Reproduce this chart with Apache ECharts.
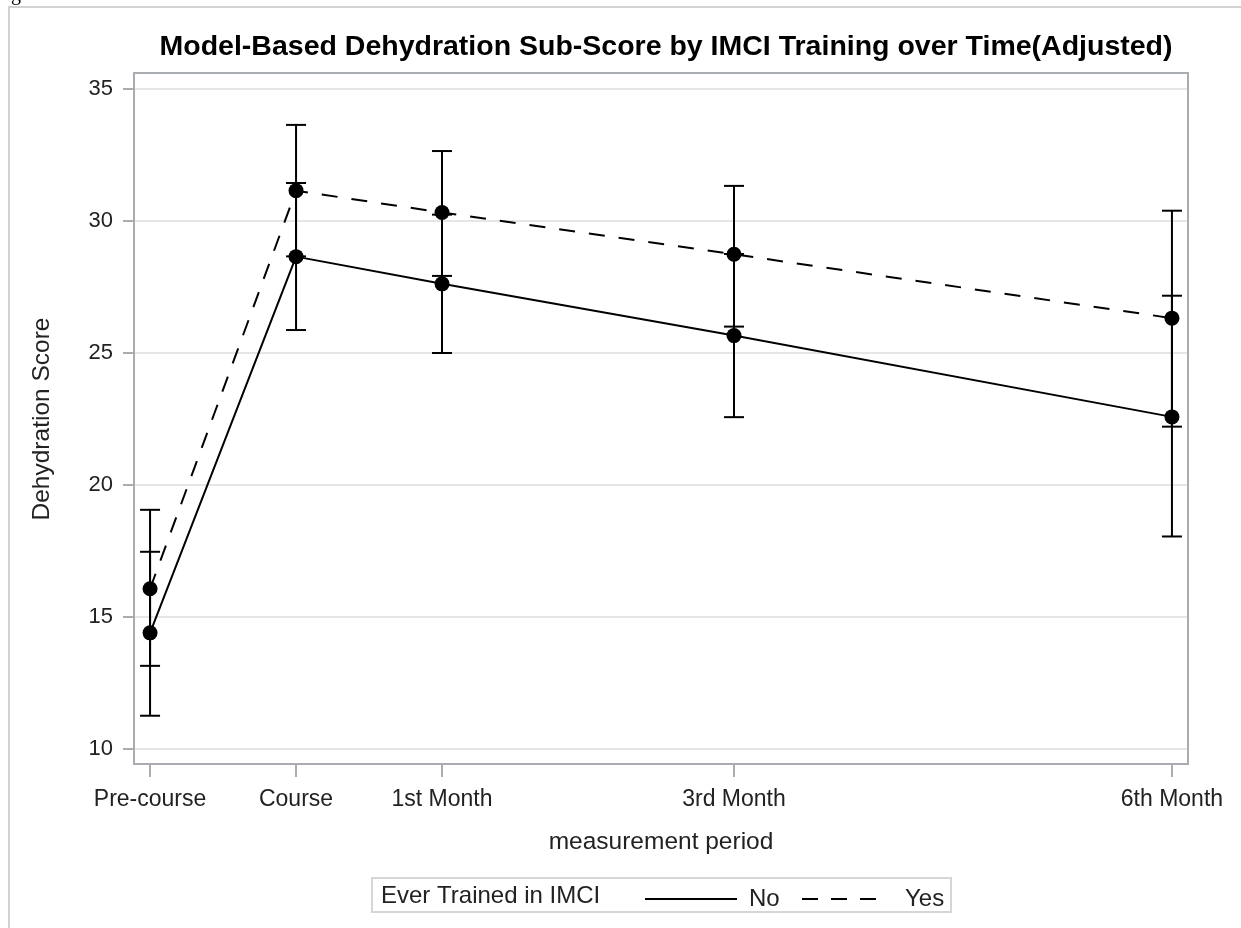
<!DOCTYPE html>
<html>
<head>
<meta charset="utf-8">
<script src="https://cdn.jsdelivr.net/npm/echarts@6/dist/echarts.min.js"></script>
<style>html,body{margin:0;padding:0;background:#fff;}#chart{width:1241px;height:928px;}</style>
</head>
<body>
<div id="chart"></div>
<script>
// ---- data ----
const periods = ['Pre-course', 'Course', '1st Month', '3rd Month', '6th Month'];
const periodX = [-1, 0, 1, 3, 6];
const noMean  = [14.40, 28.65, 27.62, 25.66, 22.58];
const noLow   = [11.26, 25.87, 25.00, 22.57, 18.05];
const noHigh  = [17.47, 31.44, 30.24, 28.75, 27.17];
const yesMean = [16.07, 31.15, 30.32, 28.74, 26.32];
const yesLow  = [13.15, 28.66, 27.92, 26.00, 22.21];
const yesHigh = [19.06, 33.64, 32.65, 31.33, 30.39];
const groupNames = ['No', 'Yes'];
const legendTitle = 'Ever Trained in IMCI';

const FONT = '"Liberation Sans", Arial, sans-serif';
const pts = (m) => periodX.map((x, i) => [x, m[i]]);
const bars = (lo, hi) => periodX.map((x, i) => [x, lo[i], hi[i]]);

function errRender(params, api) {
  const x = api.value(0);
  const lo = api.coord([x, api.value(1)]);
  const hi = api.coord([x, api.value(2)]);
  const hw = 10;
  const st = { stroke: '#000', lineWidth: 2 };
  return {
    type: 'group',
    children: [
      { type: 'line', shape: { x1: lo[0], y1: lo[1], x2: hi[0], y2: hi[1] }, style: st },
      { type: 'line', shape: { x1: lo[0] - hw, y1: lo[1], x2: lo[0] + hw, y2: lo[1] }, style: st },
      { type: 'line', shape: { x1: hi[0] - hw, y1: hi[1], x2: hi[0] + hw, y2: hi[1] }, style: st }
    ]
  };
}

const chart = echarts.init(document.getElementById('chart'), null, { renderer: 'canvas' });
chart.setOption({
  backgroundColor: '#fff',
  animation: false,
  title: {
    text: 'Model-Based Dehydration Sub-Score by IMCI Training over Time(Adjusted)',
    left: 661, top: 28, textAlign: 'center',
    textStyle: { fontFamily: FONT, fontSize: 28.5, fontWeight: 'bold', color: '#000' }
  },
  grid: { left: 134, right: 53, top: 89, bottom: 179 },
  xAxis: {
    type: 'value', min: -1.11, max: 6.11, offset: 15,
    name: 'measurement period', nameLocation: 'middle', nameGap: 66,
    nameTextStyle: { fontFamily: FONT, fontSize: 24.5, color: '#222' },
    axisLine: { show: false, onZero: false },
    axisTick: { show: true, length: 13, customValues: periodX, lineStyle: { color: '#909498', width: 1.5 } },
    axisLabel: {
      customValues: periodX, margin: 24,
      fontFamily: FONT, fontSize: 23, color: '#222',
      formatter: (v) => { const i = periodX.indexOf(Math.round(v)); return i >= 0 ? periods[i] : ''; }
    },
    splitLine: { show: false }
  },
  yAxis: {
    type: 'value', min: 10, max: 35, interval: 5,
    name: 'Dehydration Score', nameLocation: 'middle', nameGap: 79,
    nameTextStyle: { fontFamily: FONT, fontSize: 24.5, color: '#222' },
    axisLine: { show: false, onZero: false },
    axisTick: { show: true, length: 11, lineStyle: { color: '#909498', width: 1.5 } },
    axisLabel: { margin: 21, fontFamily: FONT, fontSize: 22, color: '#222' },
    splitLine: { show: true, lineStyle: { color: '#e6e6e6', width: 2 } }
  },
  legend: [
    {
      data: [{ name: groupNames[0], icon: 'path://M0,0H92V2H0Z' }],
      left: 640, top: 882, itemWidth: 92, itemHeight: 2,
      textStyle: { fontFamily: FONT, fontSize: 24, color: '#222', padding: [0, 0, 0, 7] }
    },
    {
      data: [{ name: groupNames[1], icon: 'path://M0,0H16V2H0Z M29,0H45V2H29Z M58,0H74V2H58Z' }],
      left: 797, top: 882, itemWidth: 74, itemHeight: 2,
      textStyle: { fontFamily: FONT, fontSize: 24, color: '#222', padding: [0, 0, 0, 24] }
    }
  ],
  graphic: [
    { type: 'rect', shape: { x: 9, y: 7, width: 1300, height: 1000 }, style: { fill: 'none', stroke: '#d2d2d2', lineWidth: 2 }, z: -1 },
    { type: 'text', left: 11, top: -15, style: { text: 'g', font: '20px "Liberation Serif", serif', fill: '#000' } },
    { type: 'rect', shape: { x: 134, y: 73, width: 1054, height: 691 }, style: { fill: 'none', stroke: '#a9adb1', lineWidth: 2 }, z: 10 },
    { type: 'rect', shape: { x: 372, y: 878, width: 579, height: 34 }, style: { fill: 'none', stroke: '#d6d6d6', lineWidth: 2 } },
    { type: 'text', x: 381, y: 896, style: { text: legendTitle, font: '24px "Liberation Sans", Arial, sans-serif', fill: '#222', verticalAlign: 'middle' } }
  ],
  series: [
    {
      name: groupNames[0], type: 'line', data: pts(noMean), symbol: 'none',
      lineStyle: { color: '#000', width: 2, type: 'solid' }, itemStyle: { color: '#000' }, z: 3
    },
    {
      name: groupNames[1], type: 'line', data: pts(yesMean), symbol: 'none',
      lineStyle: { color: '#000', width: 2, type: [16, 14] }, itemStyle: { color: '#000' }, z: 3
    },
    { type: 'custom', renderItem: errRender, data: bars(noLow, noHigh), encode: { x: 0, y: [1, 2] }, z: 2 },
    { type: 'custom', renderItem: errRender, data: bars(yesLow, yesHigh), encode: { x: 0, y: [1, 2] }, z: 2 },
    { type: 'scatter', data: pts(noMean), symbol: 'circle', symbolSize: 15, itemStyle: { color: '#000', opacity: 1 }, z: 4 },
    { type: 'scatter', data: pts(yesMean), symbol: 'circle', symbolSize: 15, itemStyle: { color: '#000', opacity: 1 }, z: 4 }
  ]
});
</script>
</body>
</html>
